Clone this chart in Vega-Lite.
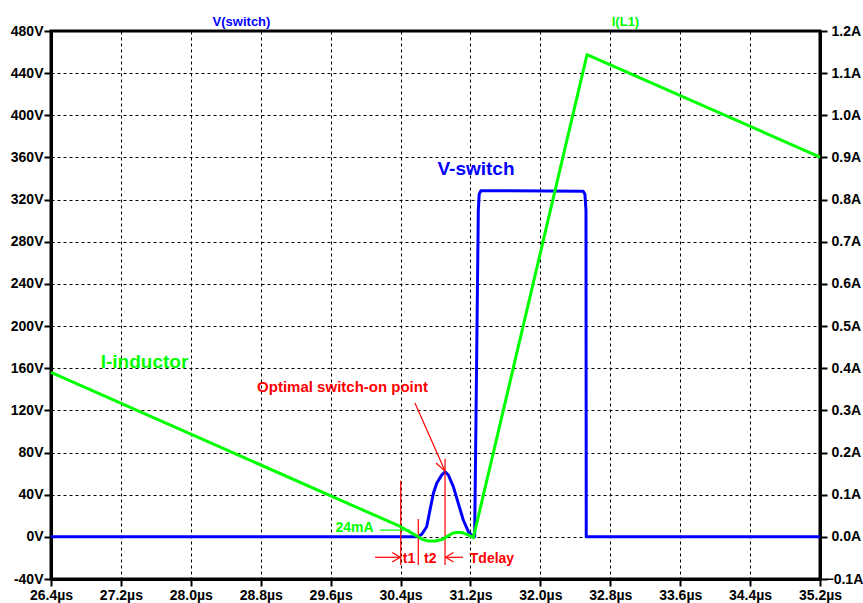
{
  "$schema": "https://vega.github.io/schema/vega-lite/v6.json",
  "width": 769,
  "height": 548,
  "autosize": {"type": "none"},
  "padding": {"left": 51, "top": 31, "right": 43, "bottom": 24},
  "background": "white",
  "config": {
    "view": {"stroke": "black", "strokeWidth": 3},
    "axis": {
      "domainColor": "black",
      "domainWidth": 3,
      "tickColor": "black",
      "tickWidth": 2,
      "tickSize": 7,
      "labelFont": "Liberation Sans",
      "labelFontWeight": "bold",
      "labelFontSize": 14,
      "labelColor": "black",
      "labelFlush": false,
      "labelOverlap": false,
      "gridColor": "black",
      "gridDash": [3, 3],
      "gridWidth": 1,
      "gridOpacity": 1
    },
    "text": {"font": "Liberation Sans", "fontWeight": "bold"}
  },
  "datasets": {
    "vswitch": [
      {"t": 26.4, "v": 0},
      {"t": 30.603, "v": 0},
      {"t": 30.645, "v": 2.7},
      {"t": 30.699, "v": 9.6},
      {"t": 30.737, "v": 25.5},
      {"t": 30.776, "v": 41.3},
      {"t": 30.814, "v": 50.8},
      {"t": 30.871, "v": 58.7},
      {"t": 30.909, "v": 61.8},
      {"t": 30.947, "v": 58.7},
      {"t": 31.004, "v": 47.6},
      {"t": 31.061, "v": 31.8},
      {"t": 31.118, "v": 16},
      {"t": 31.176, "v": 4.9},
      {"t": 31.233, "v": 0},
      {"t": 31.248, "v": 0},
      {"t": 31.29, "v": 310},
      {"t": 31.30, "v": 325},
      {"t": 31.32, "v": 328.5},
      {"t": 32.49, "v": 328},
      {"t": 32.51, "v": 325},
      {"t": 32.522, "v": 310},
      {"t": 32.525, "v": 0},
      {"t": 35.2, "v": 0}
    ],
    "il1": [
      {"t": 26.4, "a": 0.39},
      {"t": 30.402, "a": 0.024},
      {"t": 30.603, "a": 0.0},
      {"t": 30.65, "a": -0.006},
      {"t": 30.72, "a": -0.010},
      {"t": 30.80, "a": -0.010},
      {"t": 30.88, "a": -0.006},
      {"t": 30.95, "a": 0.003},
      {"t": 31.00, "a": 0.009},
      {"t": 31.06, "a": 0.011},
      {"t": 31.12, "a": 0.009},
      {"t": 31.18, "a": 0.004},
      {"t": 31.233, "a": -0.002},
      {"t": 32.534, "a": 1.144},
      {"t": 35.2, "a": 0.901}
    ],
    "markers": [
      {"t": 30.402, "v": 53.3, "t2": 30.402, "v2": -26.7},
      {"t": 30.603, "v": 16.9, "t2": 30.603, "v2": -26.7},
      {"t": 30.909, "v": 62.4, "t2": 30.909, "v2": -26.7},
      {"t": 30.565, "v": 127.0, "t2": 30.909, "v2": 62.4},
      {"t": 30.8055, "v": 70.1, "t2": 30.909, "v2": 62.4},
      {"t": 30.910, "v": 74.0, "t2": 30.909, "v2": 62.4},
      {"t": 30.108, "v": -19.4, "t2": 30.397, "v2": -19.4},
      {"t": 30.305, "v": -14.9, "t2": 30.397, "v2": -19.4},
      {"t": 30.305, "v": -23.9, "t2": 30.397, "v2": -19.4},
      {"t": 30.914, "v": -19.4, "t2": 31.115, "v2": -19.4},
      {"t": 31.006, "v": -14.9, "t2": 30.914, "v2": -19.4},
      {"t": 31.006, "v": -23.9, "t2": 30.914, "v2": -19.4}
    ],
    "timeLabels": [
      {"t": 30.497, "v": -21.4, "label": "t1"},
      {"t": 30.740, "v": -21.4, "label": "t2"},
      {"t": 31.446, "v": -21.4, "label": "Tdelay"}
    ],
    "leader": [
      {"t": 30.165, "a": 0.016, "t2": 30.508, "a2": 0.016}
    ]
  },
  "layer": [
    {
      "layer": [
        {
          "data": {"name": "vswitch"},
          "mark": {"type": "line", "color": "#0000ff", "strokeWidth": 3, "strokeJoin": "round"},
          "encoding": {
            "x": {
              "field": "t",
              "type": "quantitative",
              "scale": {"domain": [26.4, 35.2], "nice": false, "zero": false},
              "axis": {
                "title": null,
                "values": [26.4, 27.2, 28.0, 28.8, 29.6, 30.4, 31.2, 32.0, 32.8, 33.6, 34.4, 35.2],
                "labelExpr": "format(datum.value, '.1f') + 'µs'",
                "grid": true,
                "labelPadding": 2
              }
            },
            "y": {
              "field": "v",
              "type": "quantitative",
              "scale": {"domain": [-40, 480], "nice": false, "zero": false},
              "axis": {
                "title": null,
                "values": [-40, 0, 40, 80, 120, 160, 200, 240, 280, 320, 360, 400, 440, 480],
                "labelExpr": "datum.value + 'V'",
                "grid": true,
                "labelPadding": 1
              }
            }
          }
        },
        {
          "data": {"name": "markers"},
          "mark": {"type": "rule", "color": "#ff0000", "strokeWidth": 1.2},
          "encoding": {
            "x": {"field": "t", "type": "quantitative"},
            "y": {"field": "v", "type": "quantitative"},
            "x2": {"field": "t2"},
            "y2": {"field": "v2"}
          }
        },
        {
          "data": {"name": "timeLabels"},
          "mark": {"type": "text", "color": "#ff0000", "fontSize": 14, "align": "center", "baseline": "middle"},
          "encoding": {
            "x": {"field": "t", "type": "quantitative"},
            "y": {"field": "v", "type": "quantitative"},
            "text": {"field": "label"}
          }
        },
        {
          "data": {"values": [{"t": 29.736, "v": 142.2, "label": "Optimal switch-on point"}]},
          "mark": {"type": "text", "color": "#ff0000", "fontSize": 15, "align": "center", "baseline": "middle"},
          "encoding": {
            "x": {"field": "t", "type": "quantitative"},
            "y": {"field": "v", "type": "quantitative"},
            "text": {"field": "label"}
          }
        },
        {
          "data": {"values": [{"t": 31.263, "v": 349, "label": "V-switch"}]},
          "mark": {"type": "text", "color": "#0000ff", "fontSize": 19, "align": "center", "baseline": "middle"},
          "encoding": {
            "x": {"field": "t", "type": "quantitative"},
            "y": {"field": "v", "type": "quantitative"},
            "text": {"field": "label"}
          }
        },
        {
          "data": {"values": [{"t": 28.58, "v": 489, "label": "V(switch)"}]},
          "mark": {"type": "text", "color": "#0000ff", "fontSize": 13, "align": "center", "baseline": "middle"},
          "encoding": {
            "x": {"field": "t", "type": "quantitative"},
            "y": {"field": "v", "type": "quantitative"},
            "text": {"field": "label"}
          }
        }
      ]
    },
    {
      "layer": [
        {
          "data": {"name": "il1"},
          "mark": {"type": "line", "color": "#00ff00", "strokeWidth": 3, "strokeJoin": "round"},
          "encoding": {
            "x": {"field": "t", "type": "quantitative"},
            "y": {
              "field": "a",
              "type": "quantitative",
              "scale": {"domain": [-0.1, 1.2], "nice": false, "zero": false},
              "axis": {
                "title": null,
                "orient": "right",
                "values": [-0.1, 0, 0.1, 0.2, 0.3, 0.4, 0.5, 0.6, 0.7, 0.8, 0.9, 1, 1.1, 1.2],
                "labelExpr": "format(datum.value, '.1f') + 'A'",
                "grid": false,
                "labelPadding": {"condition": {"test": "datum.value < 0", "value": -2}, "value": 4}
              }
            }
          }
        },
        {
          "data": {"name": "leader"},
          "mark": {"type": "rule", "color": "#00ff00", "strokeWidth": 1.2},
          "encoding": {
            "x": {"field": "t", "type": "quantitative"},
            "y": {"field": "a", "type": "quantitative"},
            "x2": {"field": "t2"},
            "y2": {"field": "a2"}
          }
        },
        {
          "data": {"values": [{"t": 29.874, "a": 0.0217, "label": "24mA"}]},
          "mark": {"type": "text", "color": "#00ff00", "fontSize": 14, "align": "center", "baseline": "middle"},
          "encoding": {
            "x": {"field": "t", "type": "quantitative"},
            "y": {"field": "a", "type": "quantitative"},
            "text": {"field": "label"}
          }
        },
        {
          "data": {"values": [{"t": 27.47, "a": 0.4148, "label": "I-inductor"}]},
          "mark": {"type": "text", "color": "#00ff00", "fontSize": 19, "align": "center", "baseline": "middle"},
          "encoding": {
            "x": {"field": "t", "type": "quantitative"},
            "y": {"field": "a", "type": "quantitative"},
            "text": {"field": "label"}
          }
        },
        {
          "data": {"values": [{"t": 32.974, "a": 1.2225, "label": "I(L1)"}]},
          "mark": {"type": "text", "color": "#00ff00", "fontSize": 13, "align": "center", "baseline": "middle"},
          "encoding": {
            "x": {"field": "t", "type": "quantitative"},
            "y": {"field": "a", "type": "quantitative"},
            "text": {"field": "label"}
          }
        }
      ]
    }
  ],
  "resolve": {"scale": {"y": "independent"}}
}
